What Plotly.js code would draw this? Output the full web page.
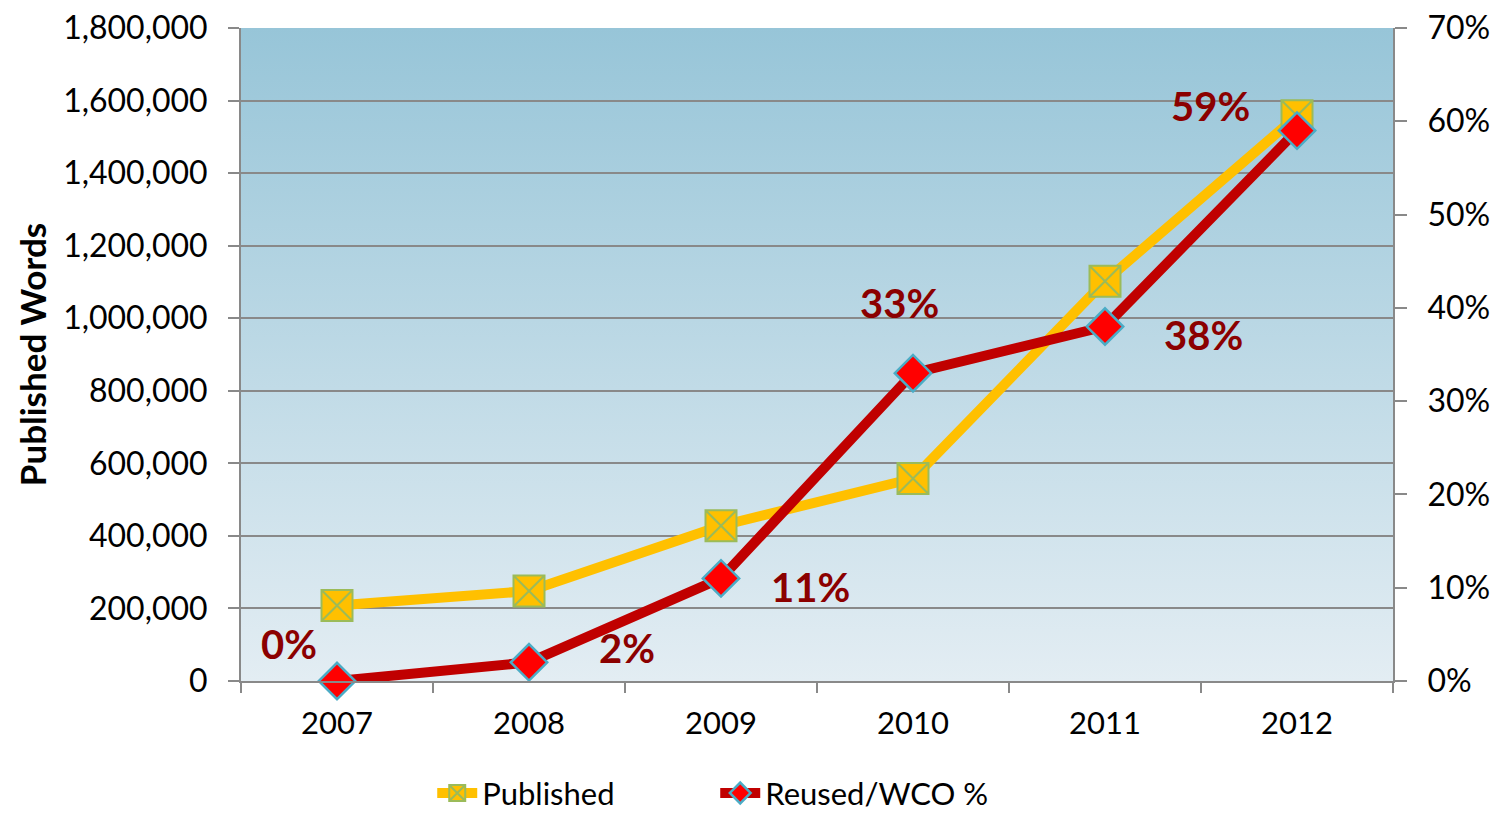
<!DOCTYPE html>
<html>
<head>
<meta charset="utf-8">
<script src="https://cdn.plot.ly/plotly-3.0.1.min.js"></script>
<style>html,body{margin:0;padding:0;background:#fff;}#chart{width:1500px;height:813px;}</style>
</head>
<body>
<div id="chart"></div>
<script>
const years = ['2007', '2008', '2009', '2010', '2011', '2012'];
const publishedWords = [208000, 248000, 428000, 558000, 1102000, 1558000];
const reusedPct = [0, 2, 11, 33, 38, 59];
const labelShiftX = [-48, 98, 89, -14, 98, -87];
const labelShiftY = [37, 14, -9, 70, -8, 25];

const font = 'Lato, "Open Sans", "DejaVu Sans", sans-serif';

const gradSvg = '<svg xmlns="http://www.w3.org/2000/svg" width="10" height="100" preserveAspectRatio="none">' +
  '<defs><linearGradient id="g" x1="0" y1="0" x2="0" y2="1">' +
  '<stop offset="0" stop-color="#97C5D8"/><stop offset="1" stop-color="#E3EDF3"/>' +
  '</linearGradient></defs><rect width="10" height="100" fill="url(#g)"/></svg>';
const gradUri = 'data:image/svg+xml;charset=utf-8,' + encodeURIComponent(gradSvg);

const traces = [
  {
    x: years, y: publishedWords, name: 'Published', type: 'scatter', mode: 'lines+markers',
    line: {color: '#FFC000', width: 10},
    marker: {symbol: 'square-x', size: 31, color: '#FFC000', line: {color: '#9BBB59', width: 2}},
    yaxis: 'y', cliponaxis: false
  },
  {
    x: years, y: reusedPct.map(v => v / 100), name: 'Reused/WCO %', type: 'scatter', mode: 'lines+markers',
    line: {color: '#C00000', width: 10},
    marker: {symbol: 'diamond', size: 28, color: '#FF0000', line: {color: '#4BACC6', width: 2.5}},
    yaxis: 'y2', cliponaxis: false
  }
];

const annotations = years.map((yr, i) => ({
  x: i, y: reusedPct[i] / 100, xref: 'x', yref: 'y2',
  text: '<b>' + reusedPct[i] + '%</b>', showarrow: false,
  xshift: labelShiftX[i], yshift: labelShiftY[i],
  font: {family: font, size: 40, color: '#8B0000'}
}));

const layout = {
  width: 1500, height: 813,
  margin: {l: 241, r: 107, t: 28, b: 132, autoexpand: false},
  paper_bgcolor: '#ffffff',
  plot_bgcolor: 'rgba(0,0,0,0)',
  font: {family: font, size: 31, color: '#000'},
  images: [{
    source: gradUri, xref: 'paper', yref: 'paper', x: 0, y: 1, sizex: 1, sizey: 1,
    sizing: 'stretch', layer: 'below', xanchor: 'left', yanchor: 'top'
  }],
  xaxis: {
    type: 'category', range: [-0.5, 5.5],
    showline: true, linecolor: '#898989', linewidth: 2,
    ticks: 'outside', tickson: 'boundaries', ticklen: 10, tickcolor: '#898989', tickwidth: 2,
    showgrid: false, zeroline: false,
    tickfont: {size: 31}, ticklabelstandoff: 14
  },
  yaxis: {
    range: [0, 1800000], dtick: 200000, tickformat: ',d',
    showline: true, linecolor: '#898989', linewidth: 2,
    ticks: 'outside', ticklen: 11, tickcolor: '#898989', tickwidth: 2,
    showgrid: true, gridcolor: '#898989', gridwidth: 2, zeroline: false,
    tickfont: {size: 32}, ticklabelstandoff: 14,
    title: {text: '<b>Published Words</b>', font: {size: 35}, standoff: 6}
  },
  yaxis2: {
    overlaying: 'y', side: 'right',
    range: [0, 0.7], dtick: 0.1, tickformat: '.0%',
    showline: true, linecolor: '#898989', linewidth: 2,
    ticks: 'outside', ticklen: 12, tickcolor: '#898989', tickwidth: 2,
    showgrid: false, zeroline: false,
    tickfont: {size: 32}, ticklabelstandoff: 14
  },
  showlegend: true,
  legend: {
    orientation: 'h', x: 0.166, xanchor: 'left', y: -0.172, yanchor: 'middle',
    font: {size: 31}, bgcolor: 'rgba(0,0,0,0)', itemwidth: 40,
    entrywidth: 228, entrywidthmode: 'pixels'
  },
  annotations: annotations
};

Plotly.newPlot('chart', traces, layout, {staticPlot: true, displayModeBar: false});
</script>
</body>
</html>
